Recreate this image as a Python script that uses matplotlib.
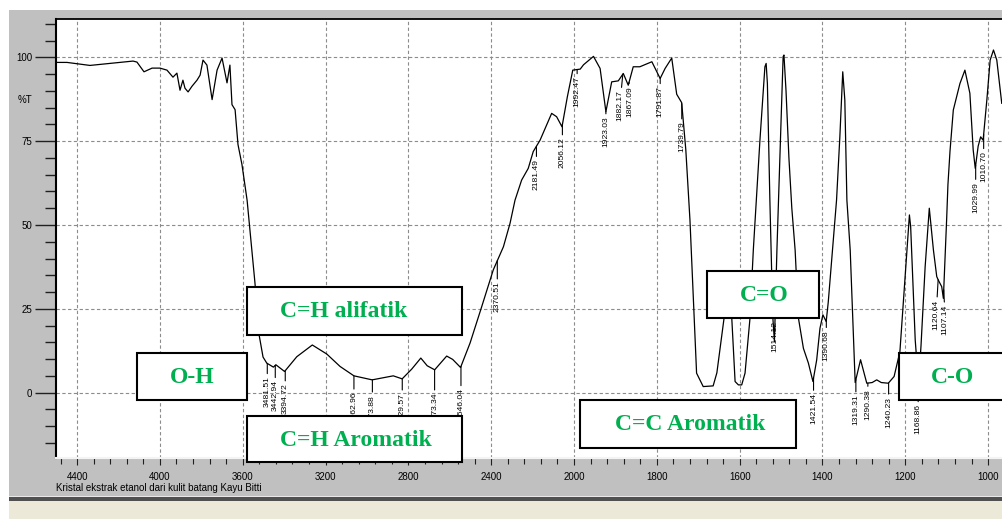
import matplotlib.pyplot as plt
import numpy as np
from matplotlib.patches import Rectangle


FILE = 'out.png'

# Spectrum (wavenumber in cm-1, %T)
WAVENUMBER = [
    4502, 4449, 4338, 4207, 4130, 4111, 4077, 4038, 4000, 3966, 3937, 3918, 3903, 3889,
    3879, 3864, 3845, 3821, 3806, 3792, 3773, 3748, 3724, 3700, 3676, 3662, 3652, 3637,
    3623, 3604, 3579, 3541, 3521, 3502, 3484, 3452, 3440, 3398, 3339, 3264, 3194, 3130,
    3063, 2975, 2873, 2830, 2784, 2740, 2709, 2673, 2615, 2586, 2548, 2502, 2446, 2390,
    2341, 2309, 2285, 2253, 2221, 2197, 2164, 2108, 2084, 2058, 2032, 2006, 1985, 1977,
    1953, 1937, 1923, 1909, 1893, 1881, 1869, 1857, 1841, 1812, 1792, 1780, 1764, 1752,
    1740, 1734, 1730, 1720, 1704, 1688, 1664, 1655, 1635, 1627, 1619, 1611, 1603, 1595,
    1587, 1575, 1567, 1551, 1539, 1536, 1533, 1527, 1520, 1516, 1510, 1495, 1493, 1488,
    1481, 1474, 1466, 1458, 1446, 1434, 1423, 1414, 1406, 1399, 1391, 1386, 1366, 1358,
    1351, 1346, 1341, 1333, 1321, 1308, 1293, 1280, 1269, 1258, 1241, 1227, 1213, 1196,
    1190, 1187, 1176, 1168, 1162, 1152, 1142, 1132, 1124, 1120, 1112, 1108, 1104, 1100,
    1097, 1092, 1084, 1068, 1056, 1044, 1036, 1031, 1024, 1018, 1012, 1003, 995, 987,
    979, 967,
]
TRANSMITTANCE = [
    98.5, 98.5, 97.6, 98.4, 98.9, 98.6, 95.7, 96.8, 96.8, 96.2, 94.1, 95.3, 90.2, 93.2,
    90.8, 89.7, 91.4, 93.2, 94.7, 99.2, 97.7, 87.4, 96.2, 99.8, 92.4, 97.7, 85.9, 84.4,
    74.0, 68.1, 57.4, 32.7, 17.2, 10.6, 8.8, 7.6, 8.3, 6.3, 10.7, 14.2, 11.5, 7.8,
    5.0, 3.8, 5.0, 4.1, 7.0, 10.3, 8.0, 6.8, 10.9, 9.9, 7.5, 14.8, 25.6, 36.6,
    43.5, 50.5, 57.4, 63.4, 66.9, 71.9, 75.3, 83.3, 82.3, 79.3, 88.3, 96.2, 96.5, 97.8,
    100.3, 96.7, 83.8, 92.7, 93.0, 95.2, 91.7, 97.2, 97.2, 98.7, 93.7, 96.7, 99.8, 89.0,
    86.5, 78.0, 72.4, 51.5, 5.8, 1.8, 2.0, 5.9, 24.7, 33.0, 22.2, 3.3, 2.3, 2.3,
    5.8, 22.2, 42.5, 75.3, 97.2, 98.2, 92.2, 57.4, 22.7, 15.2, 42.5, 100.2, 100.7, 90.0,
    70.0, 55.0, 42.5, 22.2, 13.2, 8.8, 3.3, 9.7, 19.2, 23.2, 21.2, 27.0, 57.4, 76.3,
    95.7, 87.3, 57.4, 42.5, 3.0, 9.8, 2.8, 3.0, 3.8, 3.0, 2.8, 4.8, 12.2, 42.5,
    53.0, 49.5, 15.7, 2.5, 14.0, 37.6, 55.0, 42.5, 34.6, 33.5, 31.6, 28.1, 40.0, 52.0,
    62.0, 72.0, 84.3, 92.2, 96.2, 89.3, 72.4, 66.9, 73.5, 76.3, 75.3, 87.3, 99.2, 102.2,
    99.2, 86.3,
]

PEAK_LABELS = [
    '3481.51', '3442.94', '3394.72', '3062.96', '2973.88', '2829.57', '2673.34', '2546.04',
    '2370.51', '2181.49', '2056.12', '1992.47', '1923.03', '1882.17', '1867.09', '1791.87',
    '1739.79', '1514.12', '1421.54', '1390.68', '1319.31', '1290.38', '1240.23', '1168.86',
    '1120.64', '1107.14', '1029.99', '1010.70',
]
# gap between the curve and the label text, in pixels
PEAK_DROP_PX = [
    13, 15, 13, 16, 15, 14, 23, 22,
    21, 13, 13, 7, 5, 16, 4, 8,
    18, 8, 15, 10, 15, 6, 14, 25,
    20, 15, 17, 17,
]
# sideways nudge of crowded labels, in pixels
LABEL_NUDGE_PX = {'1882.17': -3, '1867.09': 1, '1120.64': -2, '1107.14': 1.5}

XTICKS = [4400, 4000, 3600, 3200, 2800, 2400, 2000, 1800, 1600, 1400, 1200, 1000]
YTICKS = [0, 25, 50, 75, 100]

XLABEL = 'Kristal ekstrak etanol dari kulit batang Kayu Bitti'
YLABEL = '%T'

# group boxes: text, x0, y0, x1, y1, text centre x (figure pixels, y down)
BOXES = [
    ('O-H', 137, 352.7, 247, 400, 192),
    ('C=H alifatik', 246.7, 287, 462, 334.7, 344),
    ('C=H Aromatik', 246.7, 415.7, 462, 462.3, 356),
    ('C=C Aromatik', 580, 400, 795.7, 447.7, 690),
    ('C=O', 706.7, 271, 819, 318.3, 764),
    ('C-O', 898.7, 352.7, 1010, 400, 953),
]

W, H = 1003, 519
GREEN = '#00B050'
SMALL = 'Liberation Sans'


def forward(w):
    w = np.asarray(w, dtype=float)
    return np.where(w > 2000, 2000 + (w - 2000) / 2, w)


def inverse(f):
    f = np.asarray(f, dtype=float)
    return np.where(f > 2000, 2000 + (f - 2000) * 2, f)


def main():
    fig = plt.figure(figsize=(W / 100, H / 100), dpi=100, facecolor='white')

    # Window background
    bg = fig.add_axes([0, 0, 1, 1], zorder=0)
    bg.set_xlim(0, W)
    bg.set_ylim(H, 0)
    bg.axis('off')
    bg.add_patch(Rectangle((9, 10), W - 9, 487, facecolor='#C0C0C0', edgecolor='none'))
    bg.add_patch(Rectangle((9, 495.5), W - 9, 1.5, facecolor='#E8E8E8', edgecolor='none'))
    bg.add_patch(Rectangle((9, 497), W - 9, 3.5, facecolor='#505050', edgecolor='none'))
    bg.add_patch(Rectangle((9, 500.5), W - 9, H - 500.5, facecolor='#ECE9D8', edgecolor='none'))

    # Spectrum axes
    left, right, top, bottom = 56, 1003, 18.5, 458.3
    ax = fig.add_axes([left / W, 1 - bottom / H, (right - left) / W, (bottom - top) / H], zorder=1)
    ax.set_facecolor('white')
    ax.set_xscale('function', functions=(forward, inverse))
    ax.set_xlim(4502, 964)
    ax.set_ylim(-19.6, 111.6)

    ax.plot(WAVENUMBER, TRANSMITTANCE, color='black', lw=0.9, zorder=3)

    # Peak labels
    wn = np.array(WAVENUMBER, dtype=float)[::-1]
    tr = np.array(TRANSMITTANCE, dtype=float)[::-1]
    for label, drop in zip(PEAK_LABELS, PEAK_DROP_PX):
        w = float(label)
        t = np.interp(w, wn, tr)
        dx = LABEL_NUDGE_PX.get(label, 0)
        ax.annotate(label, xy=(w, t), xytext=(dx * 0.72, -drop * 0.72), textcoords='offset points',
                    rotation=90, ha='center', va='top', fontsize=6.1, family=SMALL,
                    arrowprops=dict(arrowstyle='-', lw=0.8, color='black', shrinkA=0, shrinkB=0),
                    zorder=4)

    # Ticks and grid
    minor_x = [w for w in np.arange(2080, 4500, 80) if w not in XTICKS]
    minor_x += [w for w in np.arange(1000, 2000, 40) if w not in XTICKS]
    ax.set_xticks(XTICKS)
    ax.set_xticks(minor_x, minor=True)
    ax.set_xticklabels([str(v) for v in XTICKS], family=SMALL, fontsize=7)
    ax.set_yticks(YTICKS)
    ax.set_yticks([v for v in range(-15, 111, 5) if v not in YTICKS], minor=True)
    ax.set_yticklabels([str(v) for v in YTICKS], family=SMALL, fontsize=7)

    ax.tick_params(axis='x', which='major', length=5, width=0.8, pad=5, color='#202020')
    ax.tick_params(axis='x', which='minor', length=4, width=0.8, color='#202020')
    ax.tick_params(axis='y', which='major', length=15, width=1, pad=2, color='#202020')
    ax.tick_params(axis='y', which='minor', length=8, width=1, color='#202020')

    ax.grid(True, which='major', color='#8c8c8c', linestyle=(0, (3, 2.2)), linewidth=0.8)
    ax.set_axisbelow(True)

    ax.spines['right'].set_visible(False)
    ax.spines['top'].set_color('black')
    ax.spines['top'].set_linewidth(1.3)
    ax.spines['left'].set_color('black')
    ax.spines['left'].set_linewidth(1.5)
    ax.spines['bottom'].set_color('#F4F4F4')
    ax.spines['bottom'].set_linewidth(1.5)

    fig.text(left / W, 1 - 488 / H, XLABEL, ha='left', va='center', fontsize=7, family=SMALL)
    fig.text(25 / W, 1 - 100 / H, YLABEL, ha='center', va='center', fontsize=7, family=SMALL)

    # Group annotation boxes on top
    ov = fig.add_axes([0, 0, 1, 1], zorder=2)
    ov.set_xlim(0, W)
    ov.set_ylim(H, 0)
    ov.axis('off')
    for text, x0, y0, x1, y1, tx in BOXES:
        ov.add_patch(Rectangle((x0, y0), x1 - x0, y1 - y0, facecolor='white',
                               edgecolor='black', lw=1.5))
        ov.text(tx, (y0 + y1) / 2 + 1, text, ha='center', va='center', color=GREEN,
                fontsize=17, fontweight='bold', family='Liberation Serif')

    fig.savefig(FILE, dpi=100, facecolor=fig.get_facecolor())


if __name__ == '__main__':
    main()
